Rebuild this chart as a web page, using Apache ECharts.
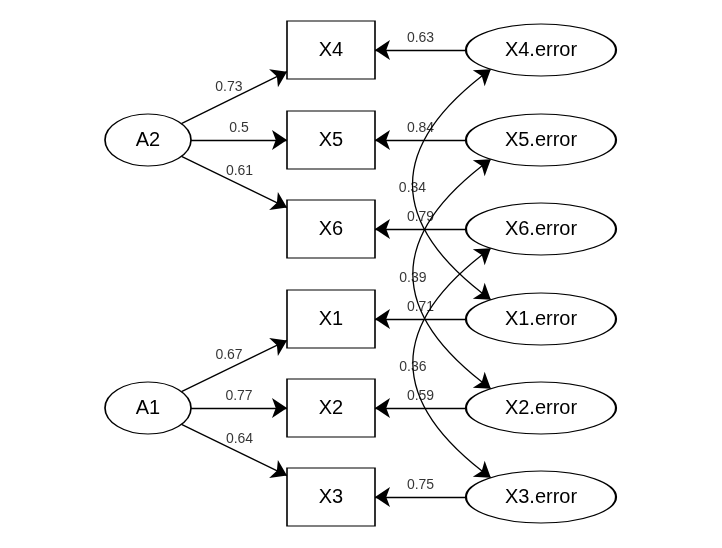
<!DOCTYPE html>
<html>
<head>
<meta charset="utf-8">
<script src="https://cdn.jsdelivr.net/npm/echarts@6/dist/echarts.min.js"></script>
<style>html,body{margin:0;padding:0;background:#fff}#m{width:722px;height:548px}</style>
</head>
<body>
<div id="m"></div>
<script>
// latent factors, observed items, error terms
var latents = ['A2', 'A1'];
var items = ['X4', 'X5', 'X6', 'X1', 'X2', 'X3'];
var errors = ['X4.error', 'X5.error', 'X6.error', 'X1.error', 'X2.error', 'X3.error'];
var loadings = [
    ['A2', 'X4', 0.73], ['A2', 'X5', 0.5], ['A2', 'X6', 0.61],
    ['A1', 'X1', 0.67], ['A1', 'X2', 0.77], ['A1', 'X3', 0.64]
];
var errorLoadings = [0.63, 0.84, 0.79, 0.71, 0.59, 0.75];
var covariances = [
    ['X4.error', 'X1.error', 0.34],
    ['X5.error', 'X2.error', 0.39],
    ['X6.error', 'X3.error', 0.36]
];

// layout (pixels)
var rowY = [50, 140, 229, 319, 408, 497];
var pos = {};
items.forEach(function (n, i) { pos[n] = {x: 331, y: rowY[i], w: 88, h: 58, rect: true}; });
errors.forEach(function (n, i) { pos[n] = {x: 541, y: rowY[i], w: 150, h: 52}; });
pos['A2'] = {x: 148, y: 140, w: 86, h: 52};
pos['A1'] = {x: 148, y: 408, w: 86, h: 52};
var curv = -0.68;

function edgePoint(n, dx, dy) {
    var p = pos[n], l = Math.sqrt(dx * dx + dy * dy);
    dx /= l; dy /= l;
    var t;
    if (p.rect) {
        t = Math.min(dx ? (p.w / 2) / Math.abs(dx) : 1e9, dy ? (p.h / 2) / Math.abs(dy) : 1e9);
    } else {
        t = 1 / Math.sqrt(Math.pow(dx / (p.w / 2), 2) + Math.pow(dy / (p.h / 2), 2));
    }
    return [p.x + dx * t, p.y + dy * t];
}
function seg(a, b) {
    var dx = pos[b].x - pos[a].x, dy = pos[b].y - pos[a].y;
    return [edgePoint(a, dx, dy), edgePoint(b, -dx, -dy)];
}
function ellPt(n, deg) {
    var p = pos[n], r = deg * Math.PI / 180;
    return [p.x + p.w / 2 * Math.cos(r), p.y + p.h / 2 * Math.sin(r)];
}
// label spot: midpoint pushed 12px along the upward normal
function straightLabel(c) {
    var dx = c[1][0] - c[0][0], dy = c[1][1] - c[0][1], l = Math.sqrt(dx * dx + dy * dy);
    var nx = dy / l, ny = -dx / l;
    if (ny > 0) { nx = -nx; ny = -ny; }
    return [(c[0][0] + c[1][0]) / 2 + nx * 12, (c[0][1] + c[1][1]) / 2 + ny * 12];
}
function curveLabel(c) {
    var x1 = c[0][0], y1 = c[0][1], x2 = c[1][0], y2 = c[1][1];
    var cx = (x1 + x2) / 2 - (y1 - y2) * curv, cy = (y1 + y2) / 2 - (x2 - x1) * curv;
    return [0.25 * x1 + 0.5 * cx + 0.25 * x2, 0.25 * y1 + 0.5 * cy + 0.25 * y2 + 4];
}

var straight = [], labels = [];
loadings.forEach(function (e) { straight.push({coords: seg(e[0], e[1]), value: e[2]}); });
errors.forEach(function (n, i) { straight.push({coords: seg(n, items[i]), value: errorLoadings[i]}); });
straight.forEach(function (s) { labels.push({value: straightLabel(s.coords), name: String(s.value)}); });
var curved = covariances.map(function (c) {
    return {coords: [ellPt(c[0], 132), ellPt(c[1], 228)], value: c[2]};
});
curved.forEach(function (s) { labels.push({value: curveLabel(s.coords), name: String(s.value)}); });

var nodeData = latents.concat(items, errors).map(function (n) {
    var p = pos[n];
    return {name: n, value: [p.x, p.y], symbol: p.rect ? 'rect' : 'circle', symbolSize: [p.w, p.h]};
});

var lineStyle = {color: '#000', width: 1.3, opacity: 1};

var myChart = echarts.init(document.getElementById('m'));
myChart.setOption({
    animation: false,
    grid: {left: 0, right: 0, top: 0, bottom: 0},
    xAxis: {type: 'value', min: 0, max: 722, show: false},
    yAxis: {type: 'value', min: 0, max: 548, inverse: true, show: false},
    series: [
        {
            type: 'lines', coordinateSystem: 'cartesian2d',
            symbol: ['none', 'arrow'], symbolSize: 15,
            lineStyle: lineStyle, data: straight
        },
        {
            type: 'lines', coordinateSystem: 'cartesian2d',
            symbol: ['arrow', 'arrow'], symbolSize: 15,
            lineStyle: echarts.util.extend({curveness: curv}, lineStyle),
            data: curved
        },
        {
            type: 'scatter', z: 5, data: nodeData,
            itemStyle: {color: '#fff', borderColor: '#000', borderWidth: 1.3, opacity: 1},
            label: {show: true, position: 'inside', formatter: '{b}', color: '#000',
                fontSize: 20, fontFamily: 'Liberation Sans'}
        },
        {
            type: 'scatter', z: 6, data: labels, symbolSize: 0,
            label: {show: true, position: 'inside', formatter: '{b}', color: '#000',
                fontSize: 14, fontFamily: 'Liberation Sans'}
        }
    ]
});
</script>
</body>
</html>
